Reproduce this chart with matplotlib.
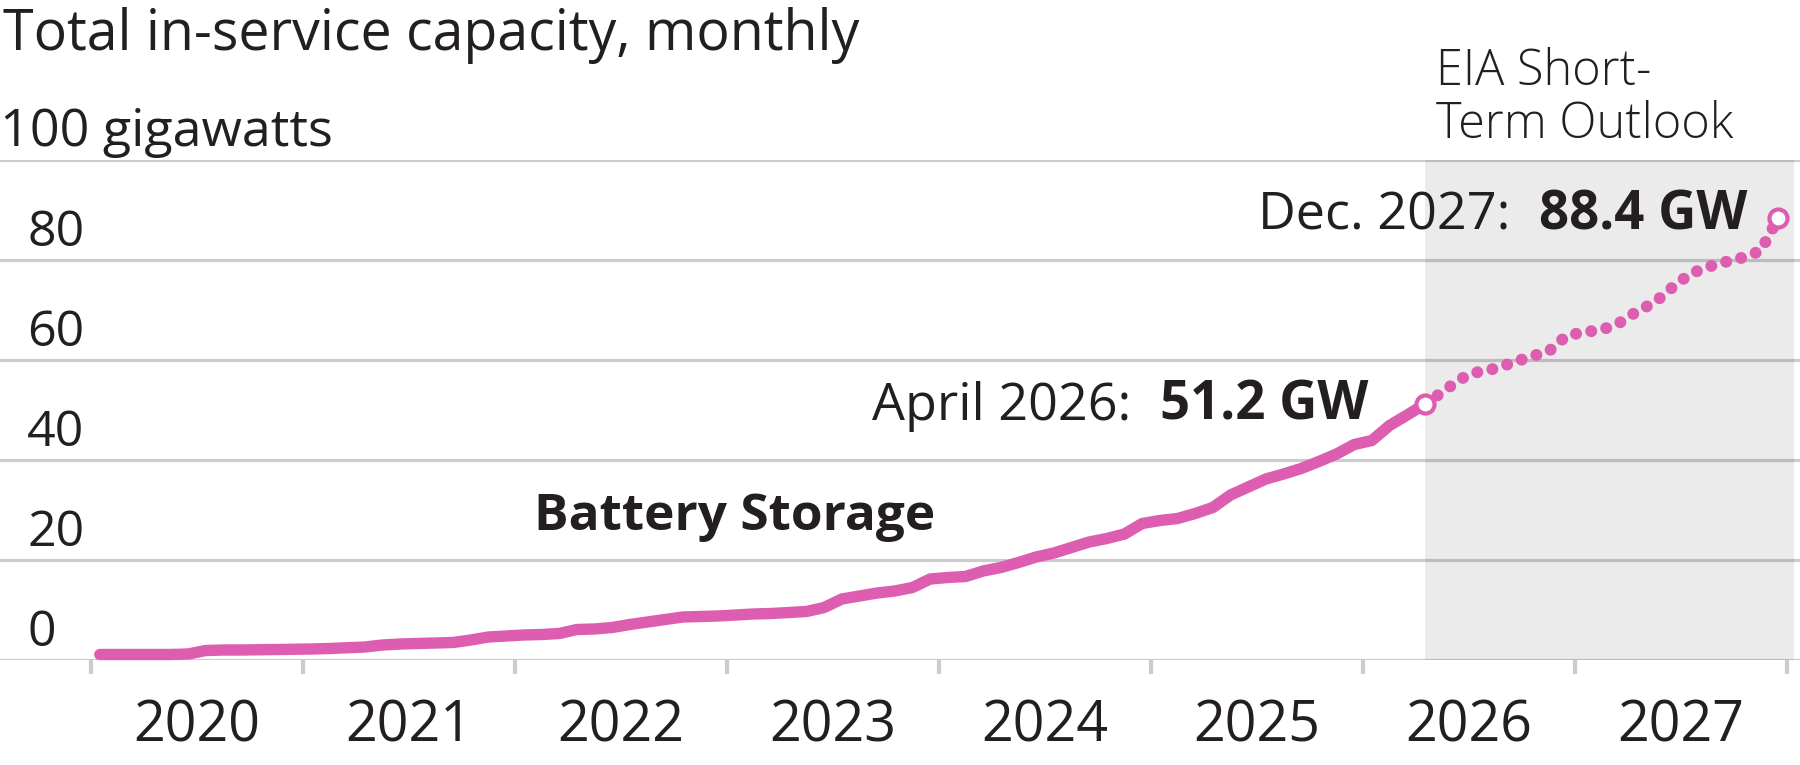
import matplotlib.pyplot as plt
import numpy as np
import pandas as pd

plt.rcParams['font.family'] = ['Open Sans', 'DejaVu Sans']

# monthly in-service battery storage capacity, GW (Jan 2020 - Apr 2026)
hist_values = [1.1, 1.1, 1.1, 1.1, 1.1, 1.2, 1.9, 2.0, 2.0, 2.05, 2.1, 2.15,
               2.2, 2.3, 2.45, 2.6, 3.0, 3.2, 3.3, 3.4, 3.5, 4.0, 4.6, 4.8,
               5.0, 5.1, 5.3, 6.1, 6.2, 6.5, 7.1, 7.6, 8.1, 8.6, 8.7, 8.8,
               9.0, 9.2, 9.3, 9.5, 9.7, 10.5, 12.2, 12.8, 13.4, 13.8, 14.5, 16.2,
               16.5, 16.7, 17.8, 18.5, 19.5, 20.6, 21.4, 22.5, 23.6, 24.3, 25.2, 27.3,
               27.9, 28.3, 29.3, 30.5, 33.0, 34.6, 36.2, 37.2, 38.3, 39.7, 41.2, 43.1,
               43.9, 46.9, 49.0, 51.2]
# EIA short-term outlook (May 2026 - Dec 2027)
outlook_values = [53.6, 56.2, 57.6, 58.3, 59.5, 60.7, 61.7, 64.8,
                  65.6, 66.0, 67.4, 69.7, 71.5, 74.5, 77.2, 78.6, 79.6, 80.5, 81.8, 88.4]
years = list(range(2020, 2028))
y_ticks = [0, 20, 40, 60, 80]

pink = '#dd5eb0'
dark = '#231f20'
grid = '#cccccc'

dates = pd.date_range('2020-01-01', periods=len(hist_values) + len(outlook_values), freq='MS')
xpos = dates.year + (dates.month - 0.5) / 12
x_hist = xpos[:len(hist_values)]
x_out = np.concatenate([x_hist[-1:], xpos[len(hist_values):]])
y_out = [hist_values[-1]] + outlook_values

fig = plt.figure(figsize=(18, 7.65), dpi=100)
ax = fig.add_axes([0, 105 / 765, 1, 500 / 765])
ax.set_xlim(2019.571, 2028.061)
ax.set_ylim(0, 100)
for s in ax.spines.values():
    s.set_visible(False)
ax.set_yticks([])
ax.set_xticks(years + [2028])
ax.set_xticklabels([])
ax.tick_params(axis='x', length=10, width=3, color=grid)

for v in y_ticks + [100]:
    ax.axhline(v, color=grid, lw=2.3, zorder=1)

# outlook shading
ax.fill_between([x_hist[-1], 2028.033], 0, 100, color='black', alpha=0.08, lw=0, zorder=2)

ax.plot(x_hist, hist_values, color=pink, lw=8.2, solid_capstyle='round',
        solid_joinstyle='round', zorder=3, clip_on=False)
ax.plot(x_out, y_out, color=pink, lw=8.6, linestyle=(0, (0.01, 1.28)),
        dash_capstyle='round', zorder=3, clip_on=False)
ax.plot([x_hist[-1], x_out[-1]], [hist_values[-1], y_out[-1]], 'o', ms=13,
        mfc='white', mec=pink, mew=3.0, zorder=4, clip_on=False)

# axis labels
for v in y_ticks:
    ax.text(27 / 1800, v + 2.8, str(v), transform=ax.get_yaxis_transform(),
            fontsize=36, color=dark, va='baseline', ha='left')
ax.text(0, 102.8, '100 gigawatts', transform=ax.get_yaxis_transform(),
        fontsize=37.5, color=dark, va='baseline', ha='left')
for yr in years:
    ax.text(yr + 0.5, -16.4, str(yr), fontsize=40, color=dark,
            ha='center', va='baseline', clip_on=False)

fig.text(3 / 1800, 1 - 50 / 765, 'Total in-service capacity, monthly',
         fontsize=40, color=dark, va='baseline', ha='left')
fig.text(1436 / 1800, 1 - 85 / 765, 'EIA Short-', fontsize=35, color=dark,
         fontweight='light', va='baseline', ha='left')
fig.text(1436 / 1800, 1 - 138 / 765, 'Term Outlook', fontsize=35, color=dark,
         fontweight='light', va='baseline', ha='left')
ax.text(2022.09, 26, 'Battery Storage', fontsize=37, fontweight='bold',
        color=dark, va='baseline', ha='left')

# point annotations: regular label + bold value
fig.canvas.draw()
renderer = fig.canvas.get_renderer()
for (px, py, lab, val, dx, dy) in [
        (x_hist[-1], hist_values[-1], 'April 2026:', '%.1f GW' % hist_values[-1], -57, -16),
        (x_out[-1], y_out[-1], 'Dec. 2027:', '%.1f GW' % y_out[-1], -31, -12)]:
    b = ax.annotate(val, xy=(px, py), xytext=(dx, dy), textcoords='offset pixels',
                    fontsize=38, fontweight='bold', color=dark, ha='right', va='baseline')
    w = b.get_window_extent(renderer).width
    ax.annotate(lab, xy=(px, py), xytext=(dx - w - 28, dy), textcoords='offset pixels',
                fontsize=37.5, color=dark, ha='right', va='baseline')

fig.savefig('out.png', dpi=100)
